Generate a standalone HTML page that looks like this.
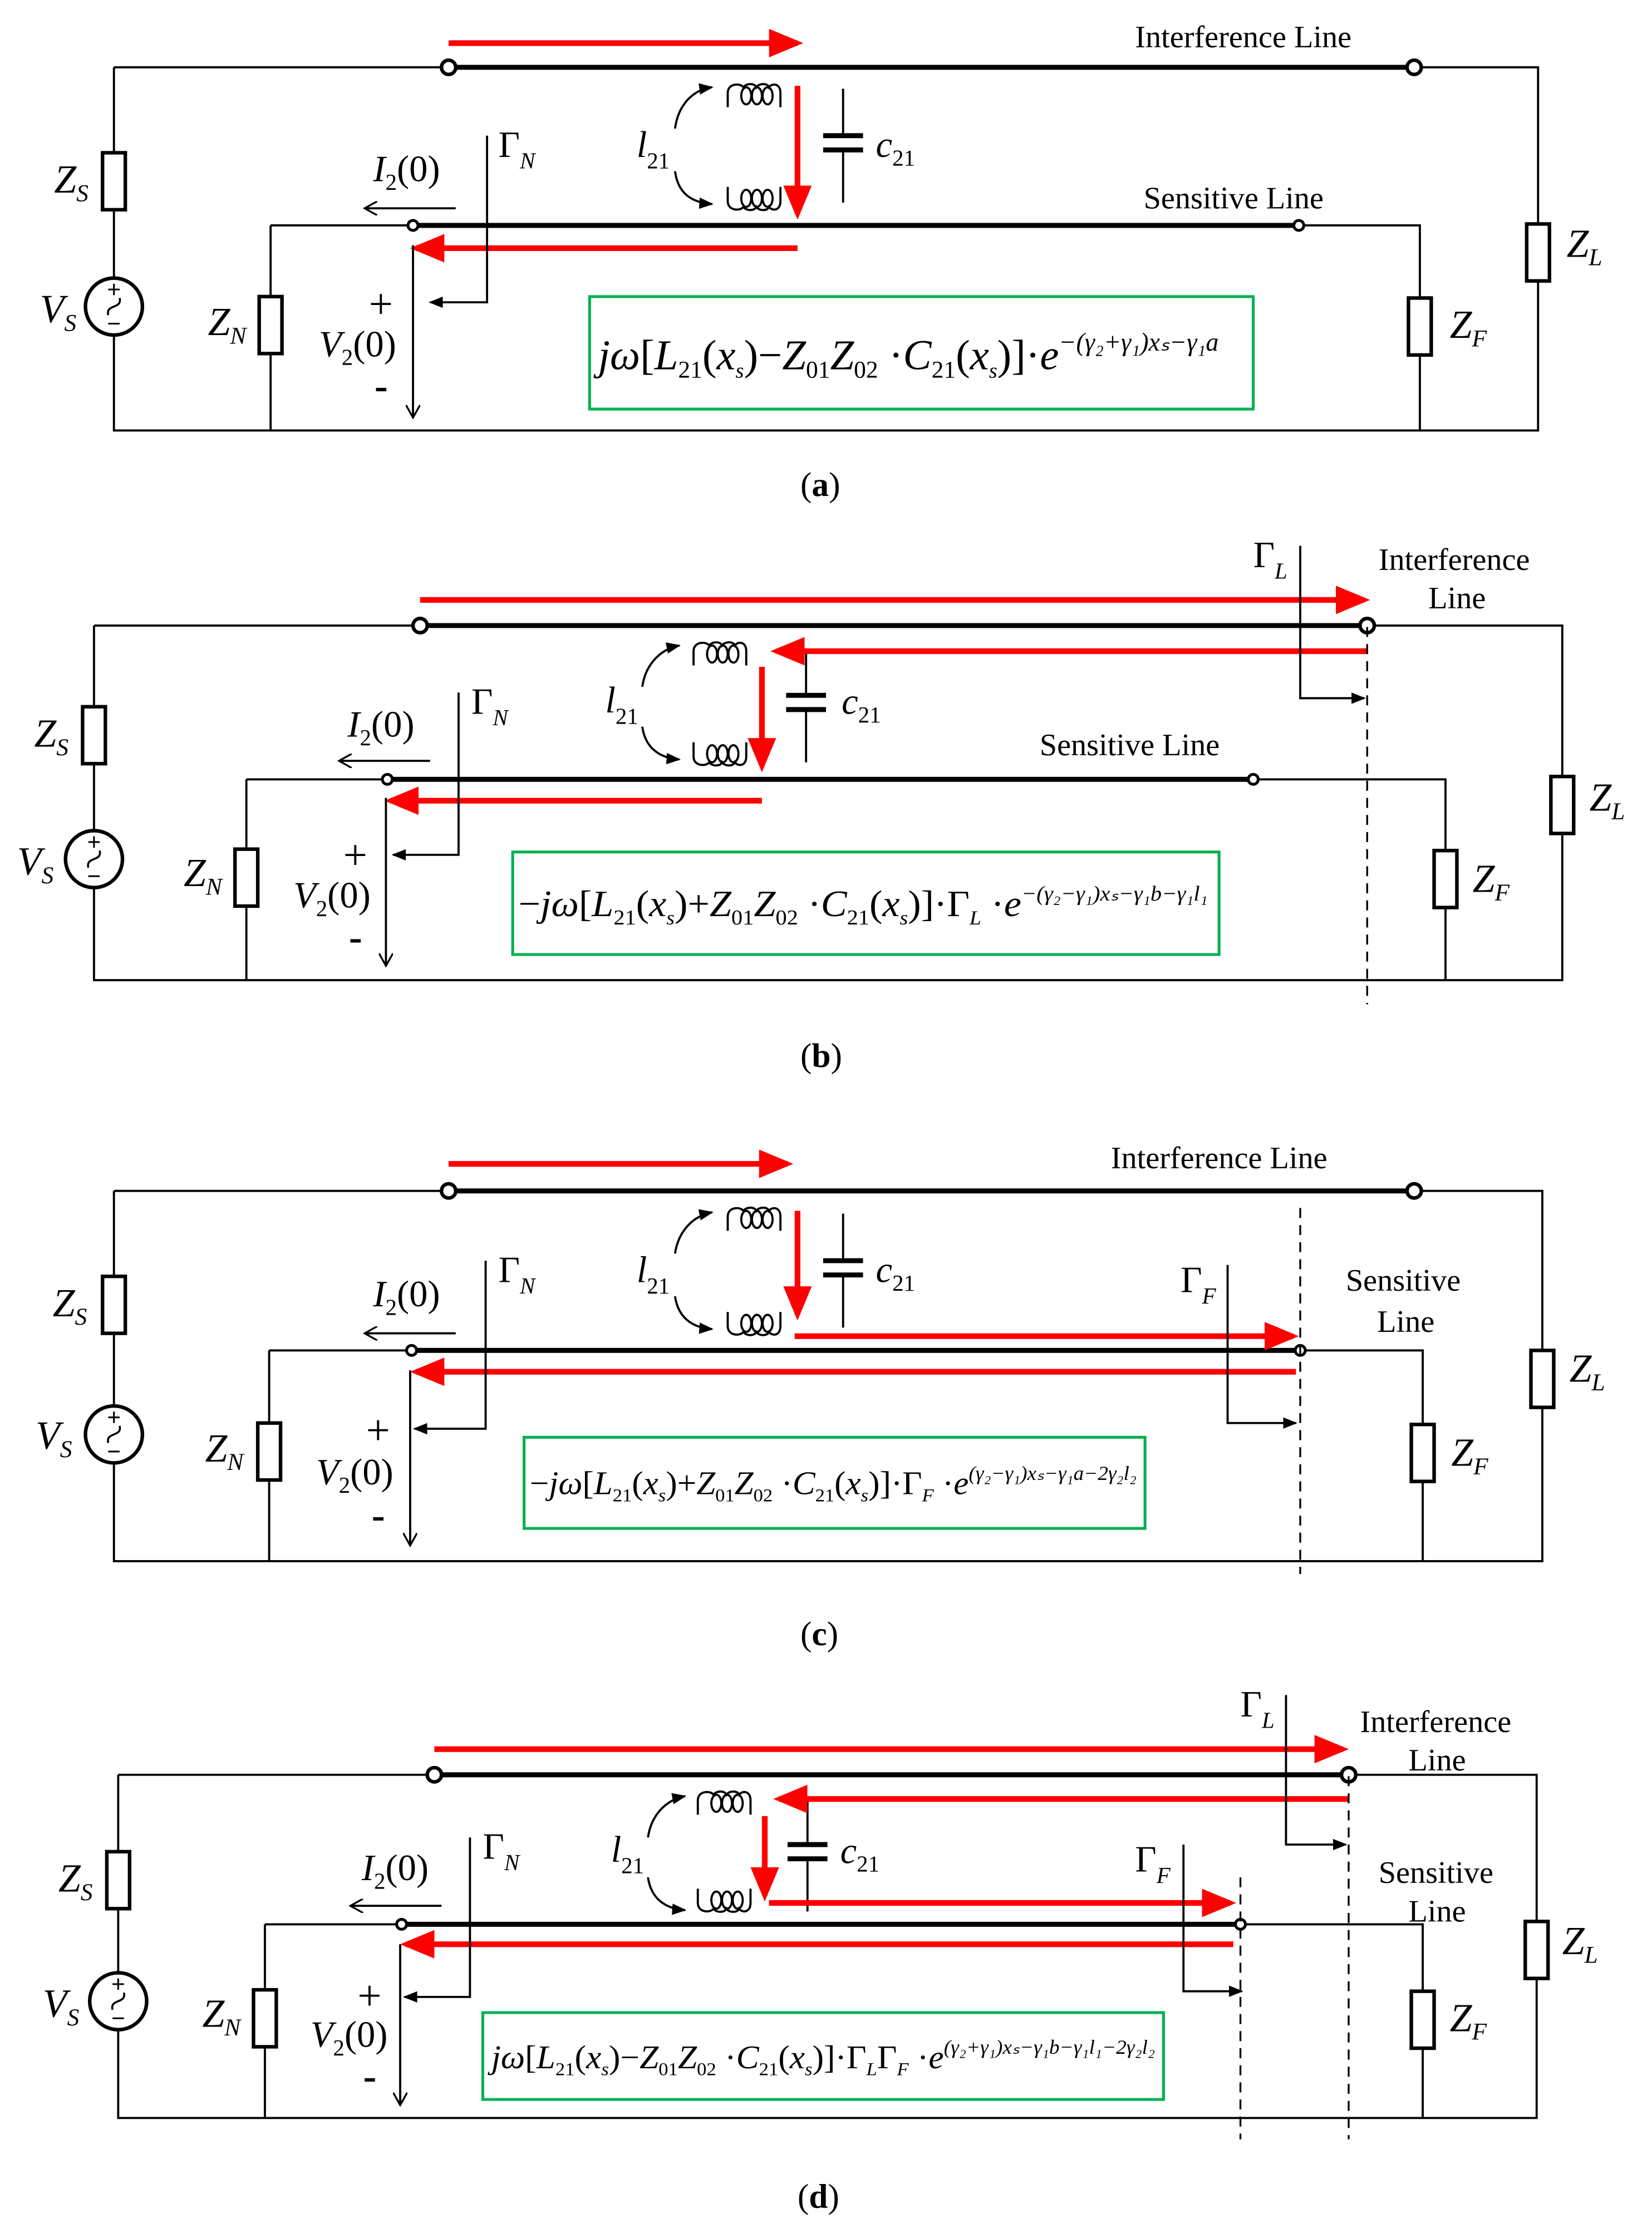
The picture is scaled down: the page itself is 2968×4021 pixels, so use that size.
<!DOCTYPE html>
<html><head><meta charset="utf-8"><style>
html,body{margin:0;padding:0;background:#fff}
svg{display:block}
text{font-family:"Liberation Serif",serif;fill:#000}
.i{font-style:italic}
.n{font-style:normal}
.t{stroke:#000;stroke-width:1.5;fill:none}
.k{stroke:#000;stroke-width:3.5;fill:none}
.r{stroke:#f00;stroke-width:4;fill:none}
.g{stroke:#00b050;stroke-width:2;fill:none}
.d{stroke:#000;stroke-width:1.3;fill:none;stroke-dasharray:7,5}
</style></head><body>
<svg width="2968" height="4021" viewBox="0 0 1160 1571" xmlns="http://www.w3.org/2000/svg">
<defs>
<marker id="ra" markerWidth="6" markerHeight="5" refX="5" refY="2.5" orient="auto" markerUnits="strokeWidth"><path d="M0,0 L6,2.5 L0,5 z" fill="#f00"/></marker>
<marker id="ba" markerWidth="10" markerHeight="8" refX="9" refY="4" orient="auto" markerUnits="userSpaceOnUse"><path d="M0,0 L10,4 L0,8 z" fill="#000"/></marker>
<marker id="oa" markerWidth="10" markerHeight="10" refX="9" refY="5" orient="auto" markerUnits="userSpaceOnUse"><path d="M0,0 L9,5 L0,10" fill="none" stroke="#000" stroke-width="1.3"/></marker>
<g id="res"><rect x="-8" y="0" width="16" height="40" fill="#fff" stroke="#000" stroke-width="2.5"/></g>
<g id="src"><circle cx="0" cy="0" r="20" fill="#fff" stroke="#000" stroke-width="2.5"/><path d="M-4,6 C-6,-2 6,2 4,-6" fill="none" stroke="#000" stroke-width="1.4"/><path d="M-4,-12 h8 M0,-16 v8 M-4,12 h8" stroke="#000" stroke-width="1.2"/></g>
<g id="indT" fill="none" stroke="#000" stroke-width="1.5">
<path d="M0,8 V-2 C0,-9 9,-9 11,-6 C13,-9 19,-9 20,-6 C22,-9 28,-9 29,-6 C31,-9 37,-9 37,-2 V8"/>
<ellipse cx="13" cy="0" rx="3.5" ry="6"/><ellipse cx="20.5" cy="0" rx="3.5" ry="6"/><ellipse cx="28" cy="0" rx="3.5" ry="6"/>
</g>
<g id="indB"><g transform="scale(1,-1)"><use href="#indT"/></g></g>
<g id="cap"><path d="M0,-35 V-2 M0,8 V45" class="t"/><path d="M-14,-2 H14 M-14,8 H14" stroke="#000" stroke-width="3.5"/></g>
</defs>

<!-- ===== (a) ===== -->
<g>
<path class="t" d="M80,47 H315 M993,47 H1080 V302 H80 V47"/>
<path class="k" d="M315,47 H993"/>
<circle cx="315" cy="47" r="5" fill="#fff" stroke="#000" stroke-width="2.5"/>
<circle cx="993" cy="47" r="5" fill="#fff" stroke="#000" stroke-width="2.5"/>
<path class="t" d="M190,158 H290 M912,158 H997 V302 M190,158 V302"/>
<path class="k" d="M290,158 H912"/>
<circle cx="290" cy="158" r="3.5" fill="#fff" stroke="#000" stroke-width="2"/>
<circle cx="912" cy="158" r="3.5" fill="#fff" stroke="#000" stroke-width="2"/>
<use href="#res" x="80" y="107"/><use href="#src" x="80" y="215"/>
<use href="#res" x="1080" y="157"/><use href="#res" x="190" y="208"/><use href="#res" x="997" y="209"/>
<use href="#indT" x="511" y="67"/><use href="#indB" x="511" y="139"/>
<use href="#cap" x="592" y="97"/>
<path class="t" d="M474,90 C476,75 485,63 500,61" marker-end="url(#ba)" stroke-width="1.3"/>
<path class="t" d="M474,120 C476,135 485,142 500,143" marker-end="url(#ba)" stroke-width="1.3"/>
<path class="r" d="M315,30 H560" marker-end="url(#ra)"/>
<path class="r" d="M560,60 V150" marker-end="url(#ra)"/>
<path class="r" d="M560,174 H292" marker-end="url(#ra)"/>
<path class="t" d="M342,95 V212 H302" marker-end="url(#ba)"/>
<path class="t" d="M320,146 H256" marker-end="url(#oa)"/>
<path class="t" d="M290,172 V293" marker-end="url(#oa)"/>
<rect class="g" x="414" y="208" width="466" height="79"/>
<text x="797" y="33" font-size="22">Interference Line</text>
<text x="803" y="146" font-size="22">Sensitive Line</text>
<text class="i" x="38" y="135" font-size="28">Z<tspan font-size="17" dy="6">S</tspan></text>
<text class="i" x="28" y="226" font-size="28">V<tspan font-size="17" dy="6">S</tspan></text>
<text class="i" x="146" y="235" font-size="28">Z<tspan font-size="17" dy="6">N</tspan></text>
<text class="i" x="1100" y="180" font-size="28">Z<tspan font-size="17" dy="6">L</tspan></text>
<text class="i" x="1018" y="237" font-size="28">Z<tspan font-size="17" dy="6">F</tspan></text>
<text x="350" y="110" font-size="26">Γ<tspan class="i" font-size="16" dy="8">N</tspan></text>
<text x="262" y="127" font-size="26"><tspan class="i">I</tspan><tspan font-size="16" dy="6">2</tspan><tspan dy="-6">(0)</tspan></text>
<text x="224" y="250" font-size="26"><tspan class="i">V</tspan><tspan font-size="16" dy="6">2</tspan><tspan dy="-6">(0)</tspan></text>
<text x="259" y="223" font-size="30">+</text><text x="263" y="280" font-size="28" font-weight="bold">-</text>
<text class="i" x="447" y="110" font-size="26">l<tspan font-size="16" dy="8" class="n">21</tspan></text>
<text class="i" x="615" y="110" font-size="26">c<tspan font-size="16" dy="6" class="n">21</tspan></text>
<text x="420" y="259" font-size="30"><tspan class="i">jω</tspan>[<tspan class="i">L</tspan><tspan font-size="17" dy="6">21</tspan><tspan dy="-6">(</tspan><tspan class="i">x</tspan><tspan font-size="15" dy="6" class="i">s</tspan><tspan dy="-6">)−</tspan><tspan class="i">Z</tspan><tspan font-size="17" dy="6">01</tspan><tspan class="i" dy="-6">Z</tspan><tspan font-size="17" dy="6">02</tspan><tspan dy="-6"> ·</tspan><tspan class="i">C</tspan><tspan font-size="17" dy="6">21</tspan><tspan dy="-6">(</tspan><tspan class="i">x</tspan><tspan font-size="15" dy="6" class="i">s</tspan><tspan dy="-6">)]·</tspan><tspan class="i">e</tspan><tspan font-size="18" dy="-13" class="i">−(γ₂+γ₁)xₛ−γ₁a</tspan></text>
<text x="562" y="348" font-size="24">(<tspan font-weight="bold">a</tspan>)</text>
</g>

<!-- ===== (b) ===== -->
<g>
<path class="t" d="M66,439 H295 M960,439 H1097 V688 H66 V439"/>
<path class="k" d="M295,439 H960"/>
<circle cx="295" cy="439" r="5" fill="#fff" stroke="#000" stroke-width="2.5"/>
<circle cx="960" cy="439" r="5" fill="#fff" stroke="#000" stroke-width="2.5"/>
<path class="t" d="M173,547 H272 M880,547 H1015 V688 M173,547 V688"/>
<path class="k" d="M272,547 H880"/>
<circle cx="272" cy="547" r="3.5" fill="#fff" stroke="#000" stroke-width="2"/>
<circle cx="880" cy="547" r="3.5" fill="#fff" stroke="#000" stroke-width="2"/>
<use href="#res" x="66" y="496"/><use href="#src" x="66" y="603"/>
<use href="#res" x="1097" y="545"/><use href="#res" x="173" y="596"/><use href="#res" x="1015" y="597"/>
<use href="#indT" x="487" y="459"/><use href="#indB" x="487" y="529"/>
<use href="#cap" x="566" y="490"/>
<path class="t" d="M451,482 C453,468 462,456 477,453" marker-end="url(#ba)" stroke-width="1.3"/>
<path class="t" d="M451,510 C453,524 462,532 477,533" marker-end="url(#ba)" stroke-width="1.3"/>
<path class="r" d="M295,421 H958" marker-end="url(#ra)"/>
<path class="r" d="M960,457 H545" marker-end="url(#ra)"/>
<path class="r" d="M535,468 V538" marker-end="url(#ra)"/>
<path class="r" d="M535,562 H274" marker-end="url(#ra)"/>
<path class="d" d="M960,440 V705"/>
<path class="t" d="M913,383 V490 H958" marker-end="url(#ba)"/>
<path class="t" d="M322,486 V600 H276" marker-end="url(#ba)"/>
<path class="t" d="M302,534 H238" marker-end="url(#oa)"/>
<path class="t" d="M271,560 V678" marker-end="url(#oa)"/>
<rect class="g" x="360" y="598" width="496" height="72"/>
<text x="968" y="400" font-size="22">Interference</text><text x="1003" y="427" font-size="22">Line</text>
<text x="730" y="530" font-size="22">Sensitive Line</text>
<text x="880" y="398" font-size="26">Γ<tspan class="i" font-size="16" dy="8">L</tspan></text>
<text class="i" x="24" y="524" font-size="28">Z<tspan font-size="17" dy="6">S</tspan></text>
<text class="i" x="12" y="614" font-size="28">V<tspan font-size="17" dy="6">S</tspan></text>
<text class="i" x="129" y="622" font-size="28">Z<tspan font-size="17" dy="6">N</tspan></text>
<text class="i" x="1116" y="569" font-size="28">Z<tspan font-size="17" dy="6">L</tspan></text>
<text class="i" x="1034" y="626" font-size="28">Z<tspan font-size="17" dy="6">F</tspan></text>
<text x="331" y="501" font-size="26">Γ<tspan class="i" font-size="16" dy="8">N</tspan></text>
<text x="244" y="517" font-size="26"><tspan class="i">I</tspan><tspan font-size="16" dy="6">2</tspan><tspan dy="-6">(0)</tspan></text>
<text x="206" y="637" font-size="26"><tspan class="i">V</tspan><tspan font-size="16" dy="6">2</tspan><tspan dy="-6">(0)</tspan></text>
<text x="241" y="610" font-size="30">+</text><text x="245" y="667" font-size="28" font-weight="bold">-</text>
<text class="i" x="425" y="500" font-size="26">l<tspan font-size="16" dy="8" class="n">21</tspan></text>
<text class="i" x="591" y="501" font-size="26">c<tspan font-size="16" dy="6" class="n">21</tspan></text>
<text x="364" y="643" font-size="26" textLength="484" lengthAdjust="spacingAndGlyphs"><tspan>−</tspan><tspan class="i">jω</tspan>[<tspan class="i">L</tspan><tspan font-size="15" dy="6">21</tspan><tspan dy="-6">(</tspan><tspan class="i">x</tspan><tspan font-size="14" dy="6" class="i">s</tspan><tspan dy="-6">)+</tspan><tspan class="i">Z</tspan><tspan font-size="15" dy="6">01</tspan><tspan class="i" dy="-6">Z</tspan><tspan font-size="15" dy="6">02</tspan><tspan dy="-6"> ·</tspan><tspan class="i">C</tspan><tspan font-size="15" dy="6">21</tspan><tspan dy="-6">(</tspan><tspan class="i">x</tspan><tspan font-size="14" dy="6" class="i">s</tspan><tspan dy="-6">)]·</tspan><tspan>Γ</tspan><tspan font-size="14" dy="6" class="i">L</tspan><tspan dy="-6"> ·</tspan><tspan class="i">e</tspan><tspan font-size="15" dy="-11" class="i">−(γ₂−γ₁)xₛ−γ₁b−γ₁l₁</tspan></text>
<text x="562" y="749" font-size="24">(<tspan font-weight="bold">b</tspan>)</text>
</g>

<!-- ===== (c) ===== -->
<g>
<path class="t" d="M80,836 H315 M993,836 H1083 V1096 H80 V836"/>
<path class="k" d="M315,836 H993"/>
<circle cx="315" cy="836" r="5" fill="#fff" stroke="#000" stroke-width="2.5"/>
<circle cx="993" cy="836" r="5" fill="#fff" stroke="#000" stroke-width="2.5"/>
<path class="t" d="M189,948 H289 M913,948 H999 V1096 M189,948 V1096"/>
<path class="k" d="M289,948 H913"/>
<circle cx="289" cy="948" r="3.5" fill="#fff" stroke="#000" stroke-width="2"/>
<circle cx="913" cy="948" r="3.5" fill="#fff" stroke="#000" stroke-width="2"/>
<use href="#res" x="80" y="896"/><use href="#src" x="80" y="1007"/>
<use href="#res" x="1083" y="948"/><use href="#res" x="189" y="999"/><use href="#res" x="999" y="1000"/>
<use href="#indT" x="511" y="856"/><use href="#indB" x="511" y="929"/>
<use href="#cap" x="592" y="887"/>
<path class="t" d="M474,880 C476,866 485,854 500,851" marker-end="url(#ba)" stroke-width="1.3"/>
<path class="t" d="M474,910 C476,924 485,932 500,933" marker-end="url(#ba)" stroke-width="1.3"/>
<path class="r" d="M315,817 H553" marker-end="url(#ra)"/>
<path class="r" d="M560,850 V923" marker-end="url(#ra)"/>
<path class="r" d="M558,938 H908" marker-end="url(#ra)"/>
<path class="r" d="M910,963 H292" marker-end="url(#ra)"/>
<path class="d" d="M913,848 V1105"/>
<path class="t" d="M862,888 V999 H910" marker-end="url(#ba)"/>
<path class="t" d="M341,885 V1003 H291" marker-end="url(#ba)"/>
<path class="t" d="M320,936 H256" marker-end="url(#oa)"/>
<path class="t" d="M288,962 V1085" marker-end="url(#oa)"/>
<rect class="g" x="368" y="1009" width="436" height="64"/>
<text x="780" y="820" font-size="22">Interference Line</text>
<text x="945" y="906" font-size="22">Sensitive</text><text x="967" y="935" font-size="22">Line</text>
<text x="829" y="907" font-size="26">Γ<tspan class="i" font-size="16" dy="8">F</tspan></text>
<text class="i" x="37" y="924" font-size="28">Z<tspan font-size="17" dy="6">S</tspan></text>
<text class="i" x="25" y="1017" font-size="28">V<tspan font-size="17" dy="6">S</tspan></text>
<text class="i" x="144" y="1026" font-size="28">Z<tspan font-size="17" dy="6">N</tspan></text>
<text class="i" x="1102" y="970" font-size="28">Z<tspan font-size="17" dy="6">L</tspan></text>
<text class="i" x="1019" y="1029" font-size="28">Z<tspan font-size="17" dy="6">F</tspan></text>
<text x="350" y="900" font-size="26">Γ<tspan class="i" font-size="16" dy="8">N</tspan></text>
<text x="262" y="917" font-size="26"><tspan class="i">I</tspan><tspan font-size="16" dy="6">2</tspan><tspan dy="-6">(0)</tspan></text>
<text x="222" y="1042" font-size="26"><tspan class="i">V</tspan><tspan font-size="16" dy="6">2</tspan><tspan dy="-6">(0)</tspan></text>
<text x="257" y="1014" font-size="30">+</text><text x="261" y="1073" font-size="28" font-weight="bold">-</text>
<text class="i" x="447" y="900" font-size="26">l<tspan font-size="16" dy="8" class="n">21</tspan></text>
<text class="i" x="615" y="900" font-size="26">c<tspan font-size="16" dy="6" class="n">21</tspan></text>
<text x="372" y="1049" font-size="23" textLength="426" lengthAdjust="spacingAndGlyphs"><tspan>−</tspan><tspan class="i">jω</tspan>[<tspan class="i">L</tspan><tspan font-size="13" dy="5">21</tspan><tspan dy="-5">(</tspan><tspan class="i">x</tspan><tspan font-size="13" dy="5" class="i">s</tspan><tspan dy="-5">)+</tspan><tspan class="i">Z</tspan><tspan font-size="13" dy="5">01</tspan><tspan class="i" dy="-5">Z</tspan><tspan font-size="13" dy="5">02</tspan><tspan dy="-5"> ·</tspan><tspan class="i">C</tspan><tspan font-size="13" dy="5">21</tspan><tspan dy="-5">(</tspan><tspan class="i">x</tspan><tspan font-size="13" dy="5" class="i">s</tspan><tspan dy="-5">)]·</tspan><tspan>Γ</tspan><tspan font-size="13" dy="5" class="i">F</tspan><tspan dy="-5"> ·</tspan><tspan class="i">e</tspan><tspan font-size="14" dy="-10" class="i">(γ₂−γ₁)xₛ−γ₁a−2γ₂l₂</tspan></text>
<text x="562" y="1155" font-size="24">(<tspan font-weight="bold">c</tspan>)</text>
</g>

<!-- ===== (d) ===== -->
<g>
<path class="t" d="M83,1246 H305 M947,1246 H1079 V1487 H83 V1246"/>
<path class="k" d="M305,1246 H947"/>
<circle cx="305" cy="1246" r="5" fill="#fff" stroke="#000" stroke-width="2.5"/>
<circle cx="947" cy="1246" r="5" fill="#fff" stroke="#000" stroke-width="2.5"/>
<path class="t" d="M186,1351 H282 M871,1351 H999 V1487 M186,1351 V1487"/>
<path class="k" d="M282,1351 H871"/>
<circle cx="282" cy="1351" r="3.5" fill="#fff" stroke="#000" stroke-width="2"/>
<circle cx="871" cy="1351" r="3.5" fill="#fff" stroke="#000" stroke-width="2"/>
<use href="#res" x="83" y="1300"/><use href="#src" x="83" y="1405"/>
<use href="#res" x="1079" y="1349"/><use href="#res" x="186" y="1397"/><use href="#res" x="999" y="1398"/>
<use href="#indT" x="490" y="1266"/><use href="#indB" x="490" y="1334"/>
<use href="#cap" x="567" y="1297"/>
<path class="t" d="M455,1290 C457,1276 466,1264 481,1261" marker-end="url(#ba)" stroke-width="1.3"/>
<path class="t" d="M455,1318 C457,1332 466,1340 481,1341" marker-end="url(#ba)" stroke-width="1.3"/>
<path class="r" d="M305,1228 H943" marker-end="url(#ra)"/>
<path class="r" d="M947,1263 H547" marker-end="url(#ra)"/>
<path class="r" d="M537,1275 V1331" marker-end="url(#ra)"/>
<path class="r" d="M540,1336 H864" marker-end="url(#ra)"/>
<path class="r" d="M866,1365 H285" marker-end="url(#ra)"/>
<path class="d" d="M947,1247 V1502 M871,1318 V1502"/>
<path class="t" d="M903,1190 V1295 H945" marker-end="url(#ba)"/>
<path class="t" d="M831,1295 V1398 H872" marker-end="url(#ba)"/>
<path class="t" d="M330,1290 V1402 H284" marker-end="url(#ba)"/>
<path class="t" d="M310,1338 H246" marker-end="url(#oa)"/>
<path class="t" d="M281,1365 V1478" marker-end="url(#oa)"/>
<rect class="g" x="339" y="1413" width="478" height="61"/>
<text x="955" y="1216" font-size="22">Interference</text><text x="989" y="1243" font-size="22">Line</text>
<text x="968" y="1322" font-size="22">Sensitive</text><text x="989" y="1349" font-size="22">Line</text>
<text x="871" y="1205" font-size="26">Γ<tspan class="i" font-size="16" dy="8">L</tspan></text>
<text x="797" y="1314" font-size="26">Γ<tspan class="i" font-size="16" dy="8">F</tspan></text>
<text class="i" x="41" y="1328" font-size="28">Z<tspan font-size="17" dy="6">S</tspan></text>
<text class="i" x="30" y="1416" font-size="28">V<tspan font-size="17" dy="6">S</tspan></text>
<text class="i" x="142" y="1423" font-size="28">Z<tspan font-size="17" dy="6">N</tspan></text>
<text class="i" x="1097" y="1372" font-size="28">Z<tspan font-size="17" dy="6">L</tspan></text>
<text class="i" x="1018" y="1426" font-size="28">Z<tspan font-size="17" dy="6">F</tspan></text>
<text x="339" y="1305" font-size="26">Γ<tspan class="i" font-size="16" dy="8">N</tspan></text>
<text x="254" y="1320" font-size="26"><tspan class="i">I</tspan><tspan font-size="16" dy="6">2</tspan><tspan dy="-6">(0)</tspan></text>
<text x="218" y="1437" font-size="26"><tspan class="i">V</tspan><tspan font-size="16" dy="6">2</tspan><tspan dy="-6">(0)</tspan></text>
<text x="251" y="1411" font-size="30">+</text><text x="255" y="1467" font-size="28" font-weight="bold">-</text>
<text class="i" x="429" y="1307" font-size="26">l<tspan font-size="16" dy="8" class="n">21</tspan></text>
<text class="i" x="590" y="1308" font-size="26">c<tspan font-size="16" dy="6" class="n">21</tspan></text>
<text x="345" y="1452" font-size="23" textLength="466" lengthAdjust="spacingAndGlyphs"><tspan class="i">jω</tspan>[<tspan class="i">L</tspan><tspan font-size="13" dy="5">21</tspan><tspan dy="-5">(</tspan><tspan class="i">x</tspan><tspan font-size="13" dy="5" class="i">s</tspan><tspan dy="-5">)−</tspan><tspan class="i">Z</tspan><tspan font-size="13" dy="5">01</tspan><tspan class="i" dy="-5">Z</tspan><tspan font-size="13" dy="5">02</tspan><tspan dy="-5"> ·</tspan><tspan class="i">C</tspan><tspan font-size="13" dy="5">21</tspan><tspan dy="-5">(</tspan><tspan class="i">x</tspan><tspan font-size="13" dy="5" class="i">s</tspan><tspan dy="-5">)]·</tspan><tspan>Γ</tspan><tspan font-size="13" dy="5" class="i">L</tspan><tspan dy="-5">Γ</tspan><tspan font-size="13" dy="5" class="i">F</tspan><tspan dy="-5"> ·</tspan><tspan class="i">e</tspan><tspan font-size="14" dy="-10" class="i">(γ₂+γ₁)xₛ−γ₁b−γ₁l₁−2γ₂l₂</tspan></text>
<text x="560" y="1550" font-size="24">(<tspan font-weight="bold">d</tspan>)</text>
</g>
</svg>
</body></html>
